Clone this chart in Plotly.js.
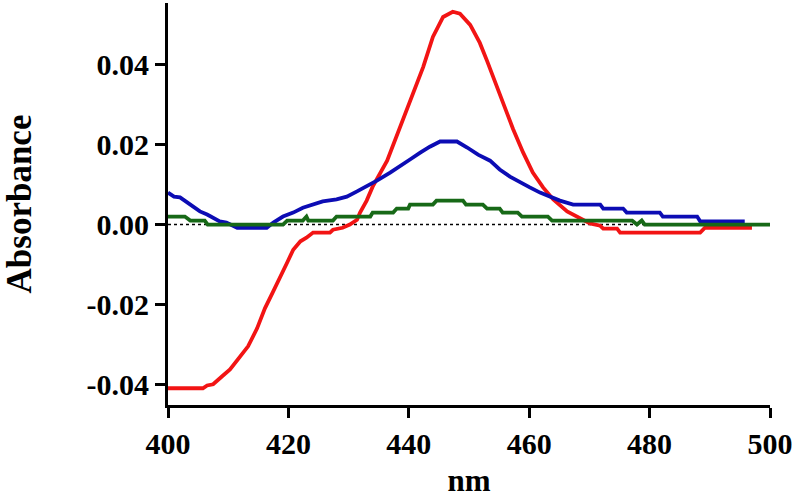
<!DOCTYPE html>
<html>
<head>
<meta charset="utf-8">
<script src="https://cdn.plot.ly/plotly-3.0.1.min.js"></script>
<style>html,body{margin:0;padding:0;background:#fff;}#chart{width:797px;height:498px;}</style>
</head>
<body>
<div id="chart"></div>
<script>
// Red series (nm, absorbance)
const redX = [400, 405.8, 406.5, 407.5, 409, 410.3, 412, 413.3, 414.8, 416.1, 417.4, 418.6, 419.8, 420.8, 422, 423, 424.1, 426.9, 427.4, 429, 430.2, 431.4, 431.9, 433, 434, 436.4, 438.5, 440.2, 442.4, 444, 445.7, 447.3, 448.5, 450.2, 451.8, 453, 454, 455.6, 457.3, 459, 460.6, 462.3, 464, 466.3, 468.1, 470.1, 471.8, 472.3, 474.6, 475.1, 488.4, 489.2, 497];
const redY = [-0.041, -0.041, -0.0403, -0.0400, -0.038, -0.0363, -0.033, -0.0305, -0.026, -0.021, -0.017, -0.013, -0.0095, -0.0063, -0.0042, -0.0033, -0.002, -0.002, -0.0013, -0.0008, 0.0, 0.0012, 0.003, 0.006, 0.0095, 0.016, 0.024, 0.031, 0.0395, 0.047, 0.052, 0.0533, 0.0528, 0.0500, 0.0455, 0.041, 0.037, 0.0305, 0.024, 0.018, 0.013, 0.0093, 0.0063, 0.0033, 0.0018, 0.0003, -0.0003, -0.001, -0.001, -0.002, -0.002, -0.0008, -0.0008];

// Blue series
const blueX = [400, 401, 402, 403.2, 404.3, 405.3, 406.5, 407.5, 408.6, 409.7, 411.5, 416.4, 417.5, 419.1, 420.8, 422.4, 424.1, 425.7, 428, 429.7, 431.4, 433, 434.7, 436.9, 438.5, 440.2, 441.9, 443.5, 445.2, 448, 449.7, 451.5, 453.5, 455.1, 456.8, 458.5, 460.1, 461.8, 463.5, 465.1, 467.3, 471.8, 472.3, 475.6, 476.2, 481.7, 482.2, 487.9, 488.4, 495.8];
const blueY = [0.008, 0.007, 0.0068, 0.0055, 0.0043, 0.0033, 0.0025, 0.0018, 0.0008, 0.0005, -0.0008, -0.0008, 0.0005, 0.002, 0.003, 0.0042, 0.005, 0.0058, 0.0063, 0.007, 0.0083, 0.0095, 0.011, 0.013, 0.0145, 0.0163, 0.018, 0.0195, 0.0208, 0.0208, 0.0193, 0.0175, 0.016, 0.0138, 0.012, 0.0105, 0.0093, 0.008, 0.007, 0.006, 0.005, 0.005, 0.004, 0.004, 0.003, 0.003, 0.002, 0.002, 0.0008, 0.0008];

// Green series
const greenX = [400, 402.8, 403.7, 406.1, 406.6, 419.1, 419.8, 422.4, 423, 423.3, 427.4, 428, 433.6, 434, 437.4, 438, 439.9, 440.2, 444, 444.6, 449, 449.5, 452.3, 453, 455.1, 455.6, 458.1, 458.8, 463.1, 463.8, 477.1, 477.9, 478.7, 479.2, 500];
const greenY = [0.002, 0.002, 0.001, 0.001, 0.0, 0.0, 0.001, 0.001, 0.002, 0.001, 0.001, 0.002, 0.002, 0.003, 0.003, 0.004, 0.004, 0.005, 0.005, 0.006, 0.006, 0.005, 0.005, 0.004, 0.004, 0.003, 0.003, 0.002, 0.002, 0.001, 0.001, 0.0, 0.001, 0.0, 0.0];

// Zero reference line
const baseX = [400, 500];
const baseY = [0, 0];

// Tick labels
const xTicks = [400, 420, 440, 460, 480, 500];
const yTickVals = [-0.04, -0.02, 0, 0.02, 0.04];
const yTickText = ['-0.04', '-0.02', '0.00', '0.02', '0.04'];

const lw = 3.8;
const traces = [
  {x: baseX, y: baseY, mode: 'lines', line: {color: '#000', width: 1.6, dash: 'dot'}, hoverinfo: 'skip'},
  {x: redX, y: redY, mode: 'lines', line: {color: '#f21414', width: lw}},
  {x: blueX, y: blueY, mode: 'lines', line: {color: '#0c0cb4', width: lw}},
  {x: greenX, y: greenY, mode: 'lines', line: {color: '#176917', width: lw}}
];

const serif = 'Liberation Serif, Times New Roman, serif';
const tickFont = {family: serif, size: 30, color: '#000', weight: 'bold'};
const layout = {
  width: 797, height: 498,
  margin: {l: 168, r: 27, t: 3, b: 93},
  paper_bgcolor: '#fff', plot_bgcolor: '#fff',
  showlegend: false,
  xaxis: {
    range: [400, 500], tickvals: xTicks, ticktext: xTicks.map(String),
    showgrid: false, zeroline: false,
    showline: true, linecolor: '#000', linewidth: 3,
    ticks: 'outside', ticklen: 10, tickwidth: 3, tickcolor: '#000',
    tickfont: tickFont,
    title: {text: 'nm', font: {family: serif, size: 31, color: '#000', weight: 'bold'}, standoff: 16}
  },
  yaxis: {
    range: [-0.0452, 0.0555], tickvals: yTickVals, ticktext: yTickText,
    showgrid: false, zeroline: false,
    showline: true, linecolor: '#000', linewidth: 3,
    ticks: 'outside', ticklen: 10, tickwidth: 3, tickcolor: '#000',
    tickfont: tickFont,
    title: {text: 'Absorbance', font: {family: serif, size: 35, color: '#000', weight: 'bold'}, standoff: 50}
  }
};
Plotly.newPlot('chart', traces, layout, {displayModeBar: false, staticPlot: true});
</script>
</body>
</html>
